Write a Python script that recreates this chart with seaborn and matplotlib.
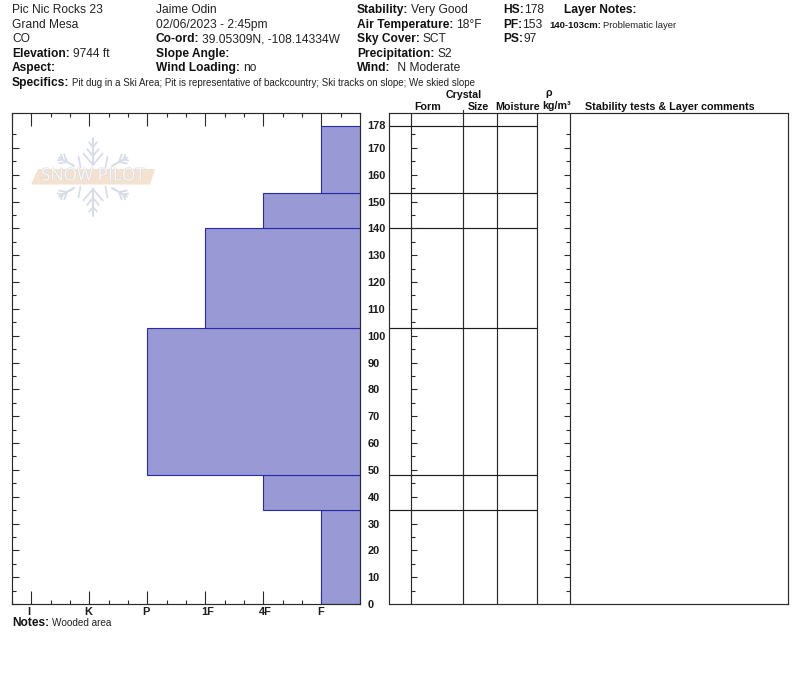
import numpy as np
import pandas as pd
import matplotlib
matplotlib.use("Agg")
import matplotlib.pyplot as plt
from matplotlib.patches import Polygon
from matplotlib.transforms import ScaledTranslation
from matplotlib import patheffects as pe
import seaborn as sns

# Snow profile layers, bottom to top
layer_edges = [0, 35, 48, 103, 140, 153, 178]
layer_hardness = ["F", "4F", "P", "1F", "4F", "F"]
hardness_scale = ["F", "4F", "1F", "P", "K", "I"]
height_ticks = list(range(0, 180, 10))
snow_depth = 178

# Site details
col_1 = [("", "Pic Nic Rocks 23"), ("", "Grand Mesa"), ("", "CO"),
         ("Elevation:", "9744 ft"), ("Aspect:", "")]
col_2 = [("", "Jaime Odin"), ("", "02/06/2023 - 2:45pm"),
         ("Co-ord:", "39.05309N, -108.14334W"), ("Slope Angle:", ""),
         ("Wind Loading:", "no")]
col_3 = [("Stability:", "Very Good"), ("Air Temperature:", "18°F"),
         ("Sky Cover:", "SCT"), ("Precipitation:", "S2"),
         ("Wind:", " N Moderate")]
col_4 = [("HS:", "178"), ("PF:", "153"), ("PS:", "97")]
specifics = ("Pit dug in a Ski Area; Pit is representative of backcountry; "
             "Ski tracks on slope; We skied slope")

W, H = 800, 676
FONT = ["Liberation Sans", "DejaVu Sans"]
INK = "#1c1c1c"
LINE = "#2a2a2a"
sns.set_theme(style="white", rc={"axes.edgecolor": LINE, "axes.linewidth": 0.85})
plt.rcParams["font.family"] = FONT

fig = plt.figure(figsize=(W / 100, H / 100), dpi=100, facecolor="white")


def axes_px(x0, y0, x1, y1, **kw):
    return fig.add_axes([x0 / W, 1 - y1 / H, (x1 - x0) / W, (y1 - y0) / H], **kw)


PT = 0.72  # points per pixel at this dpi
TOP_CM = 183
TICK_FS = 7.9

# Hardness panel
ax = axes_px(12, 113, 360, 604)
levels = {name: i + 1 for i, name in enumerate(hardness_scale)}
profile = pd.DataFrame({
    "mid": [(a + b) / 2 for a, b in zip(layer_edges[:-1], layer_edges[1:])],
    "hardness": [levels[h] for h in layer_hardness],
})
sns.histplot(data=profile, y="mid", weights="hardness", bins=layer_edges,
             color="#9999d6", edgecolor="#2a2aa8", linewidth=0.8, alpha=1, ax=ax)
ax.set_xlim(6 + 1 / 3, 1 / 3)
ax.set_ylim(0, TOP_CM)
ax.set_xlabel("")
ax.set_ylabel("")
ax.set_xticks([levels[h] for h in hardness_scale])
ax.set_xticklabels(hardness_scale, fontsize=TICK_FS, fontweight="bold", color=INK)
ax.set_xticks(np.arange(1 / 3, 6.5, 1 / 3), minor=True)
ax.tick_params(axis="x", which="major", direction="in", top=True, bottom=True,
               length=13 * PT, width=0.8, pad=2.2, color=LINE)
ax.tick_params(axis="x", which="minor", direction="in", top=True, bottom=True,
               length=4 * PT, width=0.8, color=LINE)
# Hardness labels sit a little off their ticks
label_nudge = {"F": -1, "4F": 2, "1F": 2, "P": -1, "K": -1, "I": -3}
for lab in ax.get_xticklabels():
    dx = label_nudge[lab.get_text()]
    lab.set_transform(lab.get_transform() + ScaledTranslation(dx / 100, 0, fig.dpi_scale_trans))

ax.set_yticks(height_ticks)
ax.set_yticks(range(5, 180, 10), minor=True)
ax.yaxis.tick_right()
ax.set_yticklabels([str(v) for v in height_ticks], fontsize=TICK_FS, fontweight="bold", color=INK)
ax.tick_params(axis="y", which="major", direction="in", left=True, right=True,
               labelright=True, length=6.5 * PT, width=0.8, pad=5.4, color=LINE)
ax.tick_params(axis="y", which="minor", direction="in", left=True, right=True,
               length=3.5 * PT, width=0.8, color=LINE)
ax.text(1 + 7.5 / 348, snow_depth, str(snow_depth), transform=ax.get_yaxis_transform(),
        fontsize=TICK_FS, fontweight="bold", color=INK, va="center", ha="left", clip_on=False)
for spine in ax.spines.values():
    spine.set_visible(True)

# Layer table panel
tb = axes_px(389, 113, 788, 604)
tb.set_xlim(389, 788)
tb.set_ylim(0, TOP_CM)
tb.set_xticks([])
tb.set_yticks([])
for spine in tb.spines.values():
    spine.set_visible(True)
for x in (411, 463, 497, 537, 570):
    tb.axvline(x, color=LINE, lw=0.85)
tb.hlines(layer_edges[1:], 389, 537, color="#1c1c1c", lw=0.85)
major = np.array(height_ticks[1:])
minor = np.arange(5, 180, 10)
tb.hlines(major, 411, 417, color=LINE, lw=0.8)
tb.hlines(minor, 411, 415, color=LINE, lw=0.8)
tb.hlines(major, 564, 570, color=LINE, lw=0.8)
tb.hlines(minor, 566, 570, color=LINE, lw=0.8)

# Overlay in pixel coordinates for the header block and the logo
ov = fig.add_axes([0, 0, 1, 1], facecolor="none", zorder=5)
ov.set_xlim(0, W)
ov.set_ylim(H, 0)
ov.axis("off")
renderer = fig.canvas.get_renderer()


def field(x, y, bold, plain, size_b=12, size_p=12, gap=3):
    if bold:
        t = ov.text(x, y, bold, fontsize=size_b * PT, fontweight="bold", color="#111111",
                    va="center", ha="left")
        ext = t.get_window_extent(renderer)
        x = ext.x1 * W / fig.bbox.width + gap
    if plain:
        ov.text(x, y, plain, fontsize=size_p * PT, color="#222222", va="center", ha="left")


rows = [10, 25, 39, 54, 68]
for x, col, gap in zip((12, 156, 357, 503), (col_1, col_2, col_3, col_4), (3, 3, 3, 0)):
    for y, (bold, plain) in zip(rows, col):
        field(x, y, bold, plain, gap=gap)
ov.text(564, 10, "Layer Notes:", fontsize=12 * PT, fontweight="bold", color="#111111",
        va="center", ha="left")
field(549, 25, "140-103cm:", "Problematic layer", 9.5, 9.5, gap=2)
field(12, 83, "Specifics:", specifics, 12, 9.75)
field(12, 623, "Notes:", "Wooded area", 12, 10)

for x, y, s in [(464, 95, "Crystal"), (428, 107, "Form"), (478, 107, "Size"),
                (518, 107, "Moisture"), (549, 93, "ρ"), (557, 106, "kg/m³")]:
    ov.text(x, y, s, fontsize=7.7, fontweight="bold", color="#111111", va="center", ha="center")
ov.text(585, 107, "Stability tests & Layer comments", fontsize=7.75, fontweight="bold",
        color="#111111", va="center", ha="left")
ov.plot([463, 463], [110, 113], color=LINE, lw=0.85)

# Snowflake logo: long vertical arms, short side arms and small strokes near the hub
center = np.array([93.0, 177.0])
flake = "#d6dce8"


def unit(deg):
    a = np.radians(deg)
    return np.array([np.cos(a), -np.sin(a)])


def stroke(p, q, lw=1.3):
    ov.plot(*zip(p, q), color=flake, lw=lw, solid_capstyle="round")


for deg, start, branches in [(90, 12, ((12, 15), (21, 9), (30, 6))),
                             (270, 12, ((12, 15), (21, 9), (30, 6))),
                             (150, 22, ((30, 8), (35, 5))), (30, 22, ((30, 8), (35, 5))),
                             (210, 22, ((30, 8), (35, 5))), (330, 22, ((30, 8), (35, 5)))]:
    u = unit(deg)
    stroke(center + u * start, center + u * 39, 1.5)
    for d, blen in branches:
        for sign in (-1, 1):
            p = center + u * d
            stroke(p, p + unit(deg + sign * 40) * blen)
for deg in (120, 60, 240, 300):
    u = unit(deg)
    mid = center + np.array([np.sign(u[0]) * 13.5, np.sign(u[1]) * 15])
    lean = np.array([np.sign(u[0]) * 1.0, np.sign(u[1]) * 5.5])
    stroke(mid - lean, mid + lean, 1.2)

ov.add_patch(Polygon([(31, 184.5), (38, 169), (155, 169), (150, 184.5)], closed=True,
                     facecolor="#f4e1d0", edgecolor="none"))
ov.text(93, 176.5, "SNOW PILOT", fontsize=12.5, color="#f8f8f8", va="center", ha="center",
        fontfamily=["Open Sans", "DejaVu Sans"],
        path_effects=[pe.withStroke(linewidth=0.7, foreground="#d4d6da")])

fig.savefig("out.png", dpi=100, facecolor="white")
